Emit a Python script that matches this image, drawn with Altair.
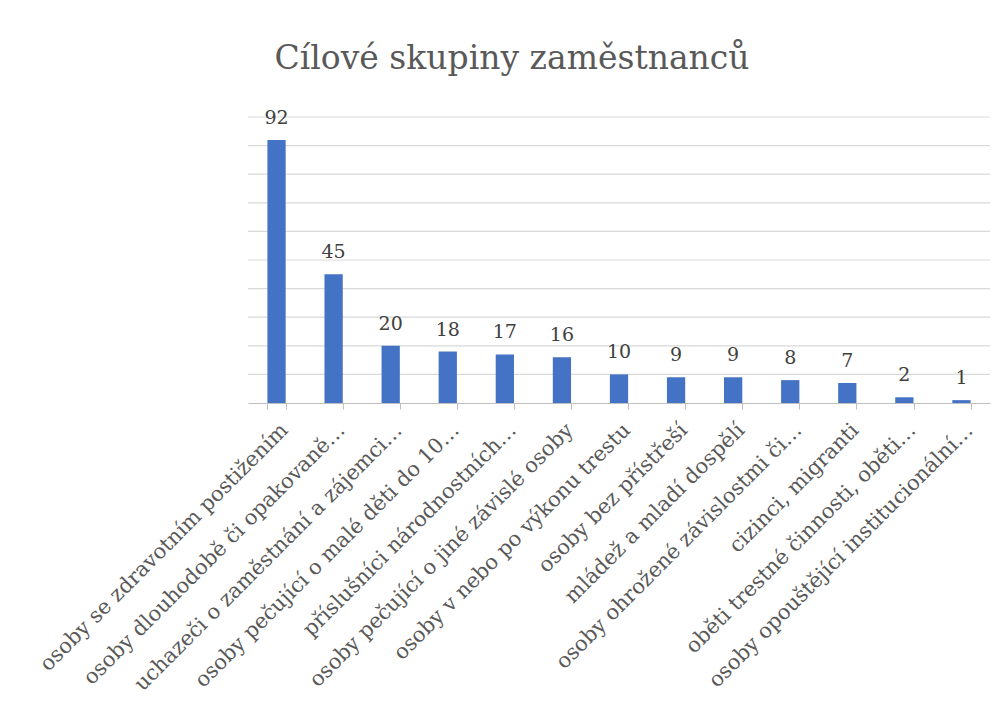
import altair as alt
import pandas as pd

categories = [
    "osoby se zdravotním postižením",
    "osoby dlouhodobě či opakovaně…",
    "uchazeči o zaměstnání a zájemci…",
    "osoby pečující o malé děti do 10…",
    "příslušníci národnostních…",
    "osoby pečující o jiné závislé osoby",
    "osoby v nebo po výkonu trestu",
    "osoby bez přístřeší",
    "mládež a mladí dospělí",
    "osoby ohrožené závislostmi či…",
    "cizinci, migranti",
    "oběti trestné činnosti, oběti…",
    "osoby opouštějící institucionální…",
]
values = [92, 45, 20, 18, 17, 16, 10, 9, 9, 8, 7, 2, 1]
grid_values = [10, 20, 30, 40, 50, 60, 70, 80, 90, 100]

df = pd.DataFrame({"cat": categories, "val": values})
gdf = pd.DataFrame({"g": grid_values})

FONT = "DejaVu Serif"
TXT = "#595959"

yscale = alt.Scale(domain=[0, 100], nice=False)

x = alt.X("cat:N", sort=categories, title=None,
          scale=alt.Scale(paddingInner=0.68, paddingOuter=0.34),
          axis=alt.Axis(labelAngle=-45, labelAlign="right", labelBaseline="top",
                        labelFont=FONT, labelFontSize=21, labelColor=TXT,
                        labelPadding=10, labelLimit=0,
                        tickBand="extent", tickSize=6, tickColor="#bfbfbf",
                        domainColor="#bfbfbf", grid=False))
y = alt.Y("val:Q", title="procenta", scale=yscale,
          axis=alt.Axis(labels=False, ticks=False, domain=False, grid=False,
                        titleFont=FONT, titleFontSize=22, titleFontWeight="normal",
                        titleColor=TXT, titlePadding=168))

grid = alt.Chart(gdf).mark_rule(color="#d9d9d9", strokeWidth=1.2).encode(
    y=alt.Y("g:Q", scale=yscale, axis=None))

base = alt.Chart(df)
bars = base.mark_bar(color="#4472C4").encode(x=x, y=y)
labels = base.mark_text(font=FONT, fontSize=19, color="#404040", baseline="bottom", dy=-12).encode(
    x=x, y=y, text="val:Q")

chart = (grid + bars + labels).properties(
    width=742, height=286,
    autosize=alt.AutoSizeParams(type="none"),
    padding={"left": 240, "top": 109, "right": 7, "bottom": 311},
    title=alt.TitleParams("Cílové skupiny zaměstnanců", font=FONT, fontSize=33,
                          fontWeight="normal", color=TXT, anchor="middle",
                          dx=-107, offset=33),
).configure_view(stroke=None)

chart.save("out.html", embed_options={"renderer": "svg", "actions": False})
